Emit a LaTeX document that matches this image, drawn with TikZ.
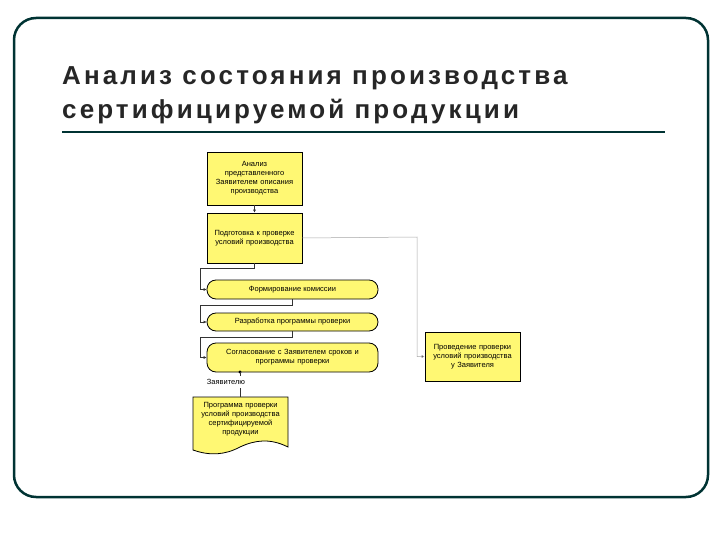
\documentclass[tikz,border=0pt]{standalone}
\usepackage{fontspec}
\setmainfont{Liberation Sans}
\usetikzlibrary{arrows.meta}
\begin{document}
\begin{tikzpicture}[x=1pt,y=-1pt,
  box/.style={draw=black,fill=yellow!55,line width=0.8pt,align=center,font=\fontsize{7.5}{9}\selectfont,inner sep=1pt},
  pill/.style={box,rounded corners=9pt},
  conn/.style={draw=black!80,line width=0.5pt},
  arr/.style={conn,-{Latex[length=3pt,width=3pt]}},
  gconn/.style={draw=black!35,line width=0.5pt,-{Latex[length=3pt,width=3pt,fill=black]}}]
\useasboundingbox (0,0) rectangle (720,540);
\draw[line width=2.5pt,draw=black!60!teal,rounded corners=22pt] (14,18) rectangle (708,497);
\node[anchor=west,font=\fontsize{26}{34}\selectfont\bfseries\addfontfeature{LetterSpace=12},text=black!85,align=left,inner sep=0pt] (title) at (62,95) {Анализ состояния производства\\сертифицируемой продукции};
\draw[line width=2pt,draw=black!60!teal] (62,132) -- (665,132);
\node[box,minimum width=95pt,minimum height=53pt,text width=92pt] (b1) at (254.5,178.5) {Анализ\\представленного Заявителем описания производства};
\node[box,minimum width=95pt,minimum height=50pt,text width=93pt] (b2) at (254.5,238) {Подготовка к проверке условий производства};
\node[pill,minimum width=171pt,minimum height=19pt] (p3) at (292.5,289.5) {Формирование комиссии};
\node[pill,minimum width=171pt,minimum height=18pt] (p4) at (292.5,322) {Разработка программы проверки};
\node[pill,minimum width=171pt,minimum height=29pt,text width=165pt] (p5) at (292.5,357.5) {Согласование с Заявителем сроков и\\программы проверки};
\node[box,minimum width=95pt,minimum height=49pt,text width=93pt] (b6) at (472.5,356.5) {Проведение проверки условий производства у Заявителя};
\draw[box] (193,397) -- (288,397) -- (288,447) .. controls (270,438) and (255,440) .. (240,447) .. controls (225,455) and (210,456) .. (193,450) -- cycle;
\node[align=center,font=\fontsize{7.5}{9}\selectfont,text width=90pt] (doc) at (240.5,419) {Программа проверки условий производства сертифицируемой продукции};
\node[font=\fontsize{7.5}{9}\selectfont,fill=white,inner sep=0.5pt] (lab) at (226,382) {Заявителю};
\draw[arr] (b1.south) -- (b2.north);
\coordinate (c1) at (200,268);
\draw[arr] (b2.south) |- (c1) |- (p3.west);
\coordinate (c2) at (200,305);
\draw[arr] (p3.south) |- (c2) |- (p4.west);
\coordinate (c3) at (200,337);
\draw[arr] (p4.south) |- (c3) |- (p5.west);
\coordinate (c4) at (417,237);
\draw[gconn] (b2.east) -- (c4) |- (b6.west);
\fill (240,372) circle (1.6pt);
\draw[conn] (240,372) -- (240,376) (240,388) -- (240,397);
\end{tikzpicture}
\end{document}
